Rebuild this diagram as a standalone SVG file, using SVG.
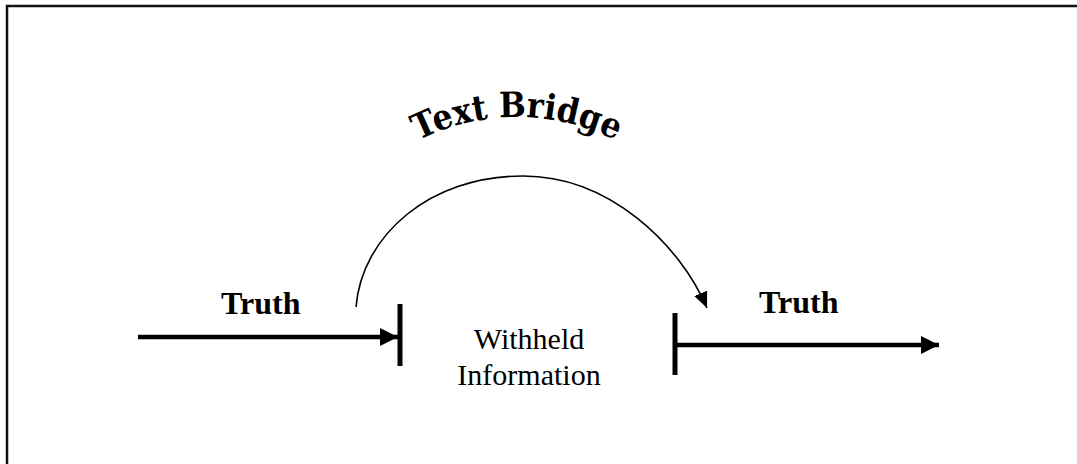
<svg xmlns="http://www.w3.org/2000/svg" width="1077" height="464" viewBox="0 0 1077 464">
<style>
.thick{stroke:#000;stroke-width:4.5;fill:none}
.bar{stroke:#000;stroke-width:5;fill:none}
.lbl{font-family:"Liberation Serif","Times New Roman",serif;font-weight:bold;font-size:32px;fill:#000}
.mid{font-family:"Liberation Serif","Times New Roman",serif;font-size:30px;fill:#000;text-anchor:middle}
.wa{font-family:"DejaVu Serif","Liberation Serif",serif;font-weight:bold;font-size:35px;fill:#000}
</style>
<defs>
<marker id="big" markerUnits="userSpaceOnUse" markerWidth="20" markerHeight="20" refX="18" refY="9" orient="auto">
<path d="M0,0 L18,9 L0,18 Z" fill="#000"/>
</marker>
<marker id="small" markerUnits="userSpaceOnUse" markerWidth="18" markerHeight="16" refX="16" refY="7" orient="auto">
<path d="M0,0 L16,7 L0,14 Z" fill="#000"/>
</marker>
<path id="tb" d="M297,337 A220 220 0 0 1 737,337"/>
</defs>
<rect width="1077" height="464" fill="#fff"/>
<path d="M7,464 V6 H1077" stroke="#111" stroke-width="2.5" fill="none"/>
<g id="title">
<text class="wa"><textPath href="#tb" startOffset="50%" text-anchor="middle" textLength="205" lengthAdjust="spacingAndGlyphs">Text Bridge</textPath></text>
</g>
<g id="truth-left">
<text class="lbl" x="221" y="314">Truth</text>
</g>
<g id="truth-right">
<text class="lbl" x="759" y="313">Truth</text>
</g>
<g id="withheld">
<text class="mid" x="529" y="349">Withheld</text>
<text class="mid" x="529" y="385">Information</text>
</g>
<g id="connectors">
<line class="thick" x1="138" y1="337" x2="398" y2="337" marker-end="url(#big)"/>
<line class="bar" x1="400" y1="304" x2="400" y2="366"/>
<line class="bar" x1="675" y1="313" x2="675" y2="375"/>
<line class="thick" x1="675" y1="345" x2="939" y2="345" marker-end="url(#big)"/>
<path d="M356,307 C362,235 430,176 523,176 C610,176 680,245 707,308" stroke="#000" stroke-width="1.6" fill="none" marker-end="url(#small)"/>
</g>
</svg>
